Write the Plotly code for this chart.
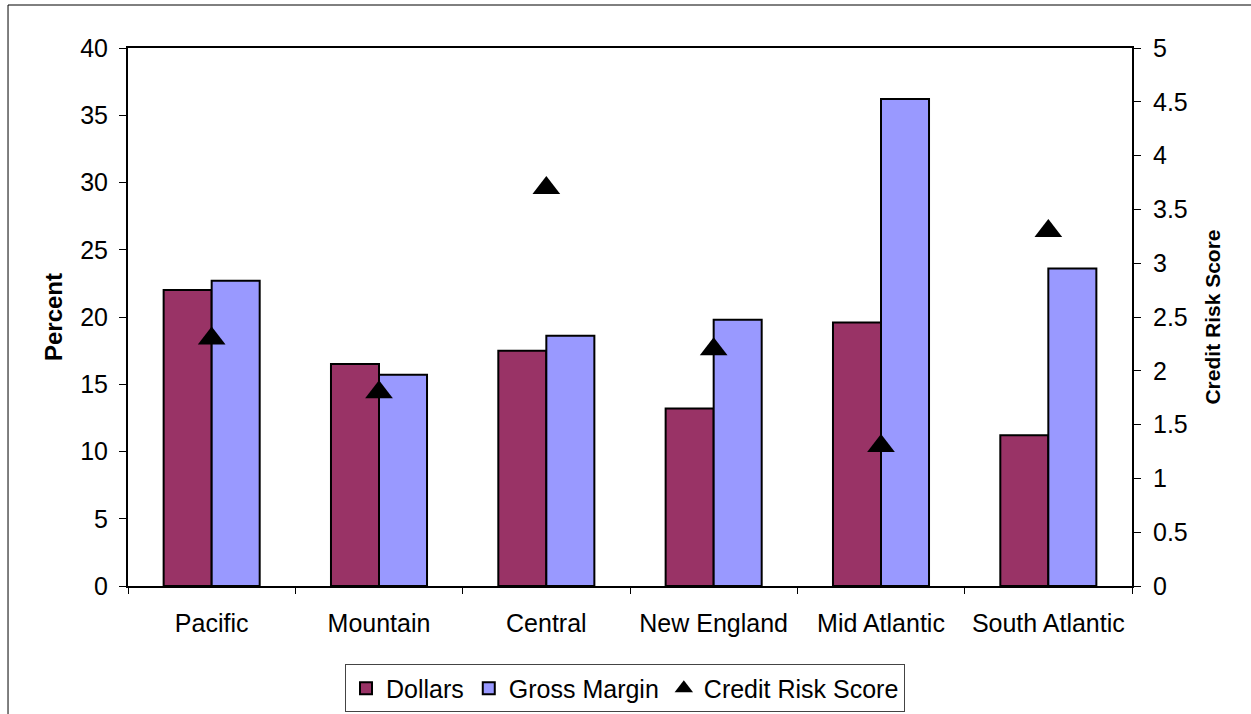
import plotly.graph_objects as go

regions = ["Pacific", "Mountain", "Central", "New England", "Mid Atlantic", "South Atlantic"]
dollars = [22.0, 16.5, 17.5, 13.2, 19.6, 11.2]
gross_margin = [22.7, 15.7, 18.6, 19.8, 36.2, 23.6]
credit_risk = [2.3, 1.8, 3.7, 2.2, 1.3, 3.3]

FONT = "Liberation Sans, Arial, sans-serif"

fig = go.Figure()
fig.add_trace(go.Bar(name="Dollars", x=regions, y=dollars,
                     marker=dict(color="#993366", line=dict(color="black", width=2))))
fig.add_trace(go.Bar(name="Gross Margin", x=regions, y=gross_margin,
                     marker=dict(color="#9999FF", line=dict(color="black", width=2))))
fig.add_trace(go.Scatter(name="Credit Risk Score", x=regions, y=credit_risk, yaxis="y2",
                         mode="markers",
                         marker=dict(symbol="triangle-up", size=24, color="black")))

fig.update_layout(
    width=1251, height=714,
    margin=dict(l=128, r=119, t=48, b=128, autoexpand=False),
    paper_bgcolor="white", plot_bgcolor="white",
    font=dict(family=FONT, size=26, color="black"),
    barmode="group", bargap=0.426, bargroupgap=0,
    showlegend=True,
    legend=dict(orientation="h", x=0.495, xanchor="center", y=-0.1905, yanchor="middle",
                bordercolor="#444444", borderwidth=1, font=dict(size=25),
                itemwidth=30, tracegroupgap=0),
    xaxis=dict(type="category", showline=True, linecolor="black", linewidth=2,
               mirror=True, ticks="outside", tickson="boundaries", ticklen=6,
               tickcolor="black", showgrid=False, tickfont=dict(size=25),
               ticklabelstandoff=14, automargin=False),
    yaxis=dict(range=[0, 40], dtick=5, showline=True, linecolor="black", linewidth=2,
               ticks="outside", ticklen=7, tickcolor="black", showgrid=False, zeroline=False,
               title=dict(text="<b>Percent</b>", font=dict(size=24), standoff=11),
               tickfont=dict(size=25), ticklabelstandoff=6, automargin=False),
    yaxis2=dict(range=[0, 5], dtick=0.5, overlaying="y", side="right", showline=True,
                linecolor="black", linewidth=2, ticks="outside", ticklen=7, tickcolor="black",
                showgrid=False, zeroline=False,
                title=dict(text="<b>Credit Risk Score</b>", font=dict(size=21), standoff=19),
                tickfont=dict(size=25), ticklabelstandoff=7, automargin=False),
    shapes=[dict(type="rect", xref="paper", yref="paper",
                 x0=-0.1195, x1=1.13, y0=-0.26, y1=1.0799,
                 line=dict(color="black", width=1), fillcolor="rgba(0,0,0,0)", layer="below")],
)

fig.write_html("out.html")
